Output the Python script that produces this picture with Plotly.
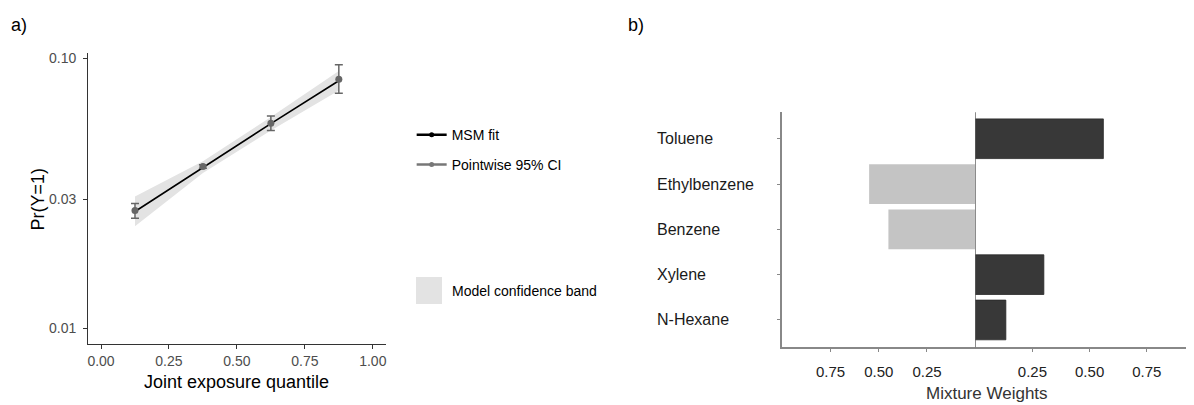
import plotly.graph_objects as go

# ---- panel a data ----
quantile_x = [0.125, 0.375, 0.625, 0.875]
msm_fit = [0.0271, 0.0395, 0.0573, 0.0826]
point_est = [0.0273, 0.0398, 0.0575, 0.0837]
point_upper = [0.0290, 0.0404, 0.0612, 0.0946]
point_lower = [0.0256, 0.0392, 0.0541, 0.0742]
band_upper = [0.0308, 0.0416, 0.0606, 0.0898]
band_lower = [0.0239, 0.0376, 0.0541, 0.0761]
x_ticks_a = [0.0, 0.25, 0.5, 0.75, 1.0]
x_ticklabels_a = ["0.00", "0.25", "0.50", "0.75", "1.00"]
y_ticks_a = [0.01, 0.03, 0.10]
y_ticklabels_a = ["0.01", "0.03", "0.10"]

# ---- panel b data ----
categories = ["Toluene", "Ethylbenzene", "Benzene", "Xylene", "N-Hexane"]
neg_names = ["Ethylbenzene", "Benzene"]
neg_weights = [0.55, 0.45]
pos_names = ["Toluene", "Xylene", "N-Hexane"]
pos_weights = [0.56, 0.30, 0.134]
w_ticks = [0.25, 0.5, 0.75]
w_ticklabels = ["0.25", "0.50", "0.75"]

# page body has an 8px margin: figure occupies the rest of the window
OFF = 8
W, H = 1194 - OFF, 405 - OFF
def px(x): return (x - OFF) / W
def py(y): return 1 - (y - OFF) / H

FONT = "Liberation Sans, Arial, sans-serif"
fig = go.Figure()

# band
fig.add_trace(go.Scatter(
    x=quantile_x + quantile_x[::-1],
    y=band_upper + band_lower[::-1],
    fill="toself", fillcolor="#e3e3e3", line=dict(width=0, color="#e3e3e3"),
    mode="lines", name="Model confidence band", showlegend=False,
    xaxis="x", yaxis="y", hoverinfo="skip"))
# fit line
fig.add_trace(go.Scatter(
    x=quantile_x, y=msm_fit, mode="lines", line=dict(color="black", width=1.6),
    showlegend=False, xaxis="x", yaxis="y"))
# pointwise estimates
fig.add_trace(go.Scatter(
    x=quantile_x, y=point_est, mode="markers",
    marker=dict(color="#666666", size=7),
    error_y=dict(type="data", symmetric=False,
                 array=[u - p for u, p in zip(point_upper, point_est)],
                 arrayminus=[p - l for p, l in zip(point_est, point_lower)],
                 color="#666666", thickness=1.5, width=4),
    showlegend=False, xaxis="x", yaxis="y"))
# legend proxies
fig.add_trace(go.Scatter(x=[None], y=[None], mode="lines+markers",
                         line=dict(color="black", width=2.5), marker=dict(color="black", size=5),
                         name="MSM fit", legend="legend", xaxis="x", yaxis="y"))
fig.add_trace(go.Scatter(x=[None], y=[None], mode="lines+markers",
                         line=dict(color="#777777", width=2.5), marker=dict(color="#777777", size=5),
                         name="Pointwise 95% CI", legend="legend2", xaxis="x", yaxis="y"))

# panel b bars
fig.add_trace(go.Bar(
    x=neg_weights, y=neg_names, orientation="h", width=0.876,
    marker=dict(color="#c4c4c4", line=dict(width=0)),
    showlegend=False, xaxis="x3", yaxis="y3"))
fig.add_trace(go.Bar(
    x=pos_weights, y=pos_names, orientation="h", width=0.876,
    marker=dict(color="#383838", line=dict(width=0.8, color="#2a2a2a")),
    showlegend=False, xaxis="x4", yaxis="y3"))

axis_a = dict(showgrid=False, zeroline=False, showline=True, linecolor="#333333", linewidth=1.3,
              ticks="outside", ticklen=4, tickcolor="#333333", tickwidth=1.2,
              tickfont=dict(family=FONT, size=14, color="#4d4d4d"))
axis_b = dict(showgrid=False, zeroline=False, showline=True, linecolor="#888888", linewidth=1.5,
              ticks="outside", ticklen=3, tickcolor="#888888", tickwidth=1,
              tickfont=dict(family=FONT, size=15, color="#222222"))

annotations = [
    dict(text="a)", x=px(8), y=py(22), xref="paper", yref="paper", xanchor="left", yanchor="middle",
         showarrow=False, font=dict(family=FONT, size=18, color="black")),
    dict(text="b)", x=px(626), y=py(22), xref="paper", yref="paper", xanchor="left", yanchor="middle",
         showarrow=False, font=dict(family=FONT, size=18, color="black")),
    dict(text="Pr(Y=1)", x=px(37), y=py(197), xref="paper", yref="paper", textangle=-90,
         xanchor="center", yanchor="middle", showarrow=False, font=dict(family=FONT, size=18, color="black")),
    dict(text="Joint exposure quantile", x=px(236), y=py(382), xref="paper", yref="paper",
         xanchor="center", yanchor="middle", showarrow=False, font=dict(family=FONT, size=18, color="black")),
    dict(text="Mixture Weights", x=px(987), y=py(393), xref="paper", yref="paper",
         xanchor="center", yanchor="middle", showarrow=False, font=dict(family=FONT, size=17, color="#333333")),
    # legend key for the model confidence band
    dict(text=" ", x=px(415), y=py(290), xref="paper", yref="paper", xanchor="left", yanchor="middle",
         width=26, height=27, bgcolor="#e3e3e3", borderpad=0, borderwidth=0, showarrow=False,
         font=dict(size=2)),
    dict(text="Model confidence band", x=px(449), y=py(290), xref="paper", yref="paper",
         xanchor="left", yanchor="middle", showarrow=False, font=dict(family=FONT, size=14, color="black")),
]
for c in categories:
    annotations.append(dict(text=c, x=px(655), y=c, xref="paper", yref="y3", xanchor="left",
                            yanchor="middle", showarrow=False, font=dict(family=FONT, size=16, color="#1a1a1a")))

fig.update_layout(
    width=W, height=H, margin=dict(l=0, r=0, t=0, b=0),
    paper_bgcolor="white", plot_bgcolor="white", barmode="overlay",
    font=dict(family=FONT),
    xaxis=dict(axis_a, domain=[px(87.3), px(385.7)], range=[-0.047, 1.05],
               tickvals=x_ticks_a, ticktext=x_ticklabels_a, anchor="y"),
    yaxis=dict(axis_a, domain=[py(343.3), py(50.7)], type="log", range=[-2.057, -0.9816],
               tickvals=y_ticks_a, ticktext=y_ticklabels_a, anchor="x", ticklabelstandoff=4),
    xaxis3=dict(axis_b, domain=[px(782), px(975)], range=[1.0, 0.0],
                tickvals=w_ticks, ticktext=w_ticklabels, anchor="y3", ticklabelstandoff=7),
    xaxis4=dict(axis_b, domain=[px(975), 1.0], range=[0.0, 0.956],
                tickvals=w_ticks, ticktext=w_ticklabels, anchor="y3", ticklabelstandoff=7),
    yaxis3=dict(axis_b, domain=[py(346.7), py(110)], type="category",
                categoryorder="array", categoryarray=categories[::-1], range=[-0.6, 4.585],
                showticklabels=False, ticklen=4, anchor="x3"),
    shapes=[dict(type="line", xref="x4", yref="y3 domain", x0=0, x1=0, y0=0, y1=1,
                 line=dict(color="#555555", width=1.3))],
    annotations=annotations,
    legend=dict(x=px(411), y=py(133), xanchor="left", yanchor="middle", bgcolor="rgba(0,0,0,0)",
                font=dict(family=FONT, size=14, color="black")),
    legend2=dict(x=px(411), y=py(163), xanchor="left", yanchor="middle", bgcolor="rgba(0,0,0,0)",
                 font=dict(family=FONT, size=14, color="black")),
)

fig.write_html("out.html")
